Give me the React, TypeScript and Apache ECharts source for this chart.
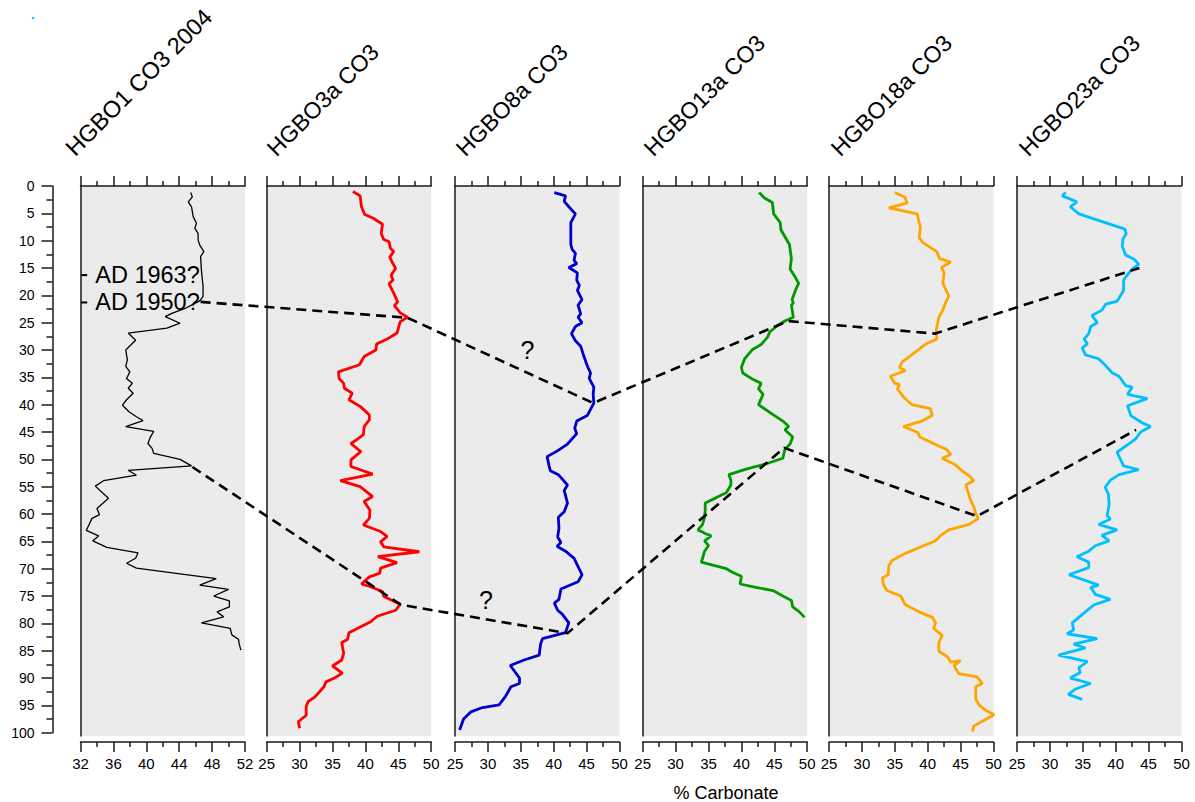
import React, { useEffect, useRef } from 'react';
import * as echarts from 'echarts';

// ---------------- data (depth in cm, % carbonate) ----------------
const DEPTH_TICKS_MIN = 0;
const DEPTH_TICKS_MAX = 100;

const hgbo1: number[][] = [
  [1.2, 45.4], [2.0, 45.6], [2.9, 45.1], [3.8, 45.5], [5.6, 45.7], [6.8, 46.1], [7.7, 45.9], [8.7, 46.3],
  [9.9, 46.3], [10.8, 46.5], [12.0, 47.0], [12.9, 46.6], [15.4, 46.7], [18.4, 46.9], [20.2, 46.9], [21.0, 46.5],
  [22.4, 44.7], [23.3, 43.1], [23.9, 42.3], [25.1, 44.1], [26.0, 42.5], [26.9, 37.8], [28.2, 38.7], [30.0, 37.5],
  [31.8, 37.7], [33.0, 37.5], [34.0, 38.0], [35.2, 37.6], [36.1, 38.3], [37.0, 37.8], [37.9, 38.4], [39.1, 37.6],
  [40.1, 37.1], [41.3, 37.9], [42.2, 38.8], [42.9, 39.6], [44.0, 37.5], [44.9, 40.9], [45.9, 40.5], [47.1, 40.2],
  [48.0, 40.7], [48.9, 40.9], [50.0, 44.1], [51.2, 45.5], [52.0, 37.8], [52.9, 38.8], [53.9, 34.8], [54.9, 33.8],
  [57.1, 35.4], [59.0, 34.0], [60.1, 34.3], [60.8, 33.4], [63.0, 32.7], [64.0, 34.2], [64.9, 33.5], [66.1, 35.2],
  [67.1, 39.0], [68.1, 38.7], [69.0, 37.6], [69.9, 38.8], [71.8, 48.5], [73.0, 46.5], [73.8, 50.0], [75.0, 48.2],
  [75.9, 50.1], [77.0, 50.1], [77.9, 48.6], [78.8, 49.4], [79.9, 46.7], [80.9, 50.2], [82.1, 50.4], [82.9, 51.2],
  [83.8, 51.3], [84.9, 51.5],
];

const hgbo3a: number[][] = [
  [1.0, 38.1], [1.8, 39.2], [3.8, 39.4], [5.2, 39.9], [5.9, 41.2], [7.0, 42.6], [8.7, 42.4], [9.8, 42.8],
  [10.2, 43.6], [11.4, 43.8], [12.0, 44.3], [13.0, 43.7], [14.0, 44.1], [15.1, 44.6], [16.3, 43.9], [17.2, 44.2],
  [17.9, 43.6], [19.6, 44.3], [21.2, 44.9], [21.9, 44.4], [23.2, 45.3], [24.0, 46.4], [24.8, 45.3], [26.9, 44.8],
  [28.0, 43.3], [28.9, 41.7], [30.0, 41.6], [31.2, 39.8], [32.7, 39.1], [34.0, 35.9], [35.2, 36.0], [36.1, 36.7],
  [37.0, 36.8], [37.9, 38.0], [39.1, 37.5], [40.4, 39.3], [41.9, 40.6], [42.8, 40.6], [44.0, 39.8], [45.5, 39.7],
  [46.3, 38.8], [47.1, 37.8], [48.6, 39.3], [50.1, 37.8], [51.3, 37.8], [52.7, 41.1], [53.9, 36.2], [55.0, 39.2],
  [56.8, 41.1], [57.7, 39.8], [59.3, 40.7], [60.8, 40.6], [62.0, 39.7], [63.2, 42.3], [64.1, 43.3], [65.1, 42.3],
  [66.0, 42.8], [66.9, 48.2], [67.8, 41.9], [68.9, 44.8], [69.9, 42.3], [70.8, 42.2], [71.5, 40.6], [72.8, 39.4],
  [73.3, 40.8], [74.2, 42.6], [75.1, 42.8], [76.5, 45.3], [77.6, 44.6], [78.7, 41.8], [79.7, 40.8], [81.7, 37.5],
  [82.9, 37.3], [83.5, 36.4], [85.5, 36.7], [86.7, 36.4], [87.8, 35.0], [89.1, 36.5], [90.0, 35.3], [90.7, 34.0],
  [91.6, 33.7], [93.5, 32.3], [94.3, 31.3], [95.2, 31.0], [96.8, 31.0], [98.0, 29.8], [99.2, 30.0],
];

const hgbo8a: number[][] = [
  [1.2, 40.1], [1.8, 41.8], [2.8, 41.6], [3.8, 42.3], [5.1, 43.3], [6.7, 42.6], [10.7, 42.6], [11.6, 42.8],
  [12.3, 43.3], [13.6, 43.1], [14.2, 43.5], [14.9, 42.3], [15.9, 43.6], [17.2, 43.5], [18.2, 43.9], [19.1, 43.6],
  [20.8, 44.3], [21.8, 43.7], [23.4, 44.1], [24.0, 43.7], [25.0, 44.3], [25.7, 43.3], [27.0, 42.7], [28.3, 43.3],
  [29.3, 44.1], [31.2, 44.6], [32.9, 45.1], [34.2, 45.6], [35.2, 45.4], [36.8, 46.1], [38.1, 46.0], [39.7, 46.1],
  [42.0, 45.1], [43.0, 43.5], [44.3, 43.2], [45.3, 43.5], [47.2, 42.1], [48.5, 40.5], [49.5, 39.0], [51.2, 39.3],
  [52.1, 39.5], [52.8, 40.7], [54.7, 42.1], [55.7, 41.6], [58.0, 42.1], [59.6, 41.6], [60.6, 40.7], [62.6, 40.8],
  [64.2, 40.6], [65.2, 41.1], [65.9, 40.5], [66.8, 41.8], [68.1, 43.1], [69.1, 43.5], [71.1, 44.3], [72.4, 43.7],
  [73.7, 41.1], [75.6, 40.8], [76.3, 40.1], [77.6, 40.6], [78.3, 41.3], [79.9, 42.3], [81.7, 41.8], [82.8, 38.3],
  [83.8, 38.0], [85.8, 37.8], [86.7, 35.5], [87.7, 33.4], [90.0, 34.8], [91.0, 34.8], [91.6, 33.5], [93.3, 32.7],
  [94.9, 31.7], [95.4, 29.2], [96.2, 27.4], [97.5, 26.3], [99.5, 25.7],
];

const hgbo13a: number[][] = [
  [1.2, 42.7], [2.2, 43.5], [3.0, 44.7], [5.1, 44.9], [6.7, 45.9], [8.0, 46.0], [10.7, 47.3], [13.3, 47.6],
  [15.2, 47.4], [16.5, 48.1], [17.8, 48.7], [19.1, 48.2], [20.8, 47.7], [21.4, 47.9], [21.8, 47.6], [24.0, 47.9],
  [24.7, 46.6], [25.7, 45.3], [26.7, 44.3], [27.6, 44.0], [29.0, 43.0], [29.9, 41.7], [31.6, 40.5], [33.2, 40.0],
  [34.2, 40.2], [35.2, 41.5], [35.8, 42.5], [36.1, 43.0], [37.1, 42.6], [38.1, 43.3], [40.0, 42.6], [41.4, 44.3],
  [43.0, 46.3], [44.0, 47.2], [44.6, 46.6], [45.9, 47.8], [47.2, 47.4], [48.2, 46.6], [49.8, 46.3], [50.8, 43.8],
  [51.8, 40.7], [52.8, 38.1], [53.8, 38.4], [54.7, 38.4], [56.1, 37.7], [57.0, 36.2], [58.0, 34.5], [59.3, 34.5],
  [60.6, 34.4], [61.9, 34.1], [62.9, 33.4], [63.6, 34.6], [64.0, 35.4], [64.9, 34.4], [65.8, 35.0], [66.8, 34.4],
  [68.1, 34.1], [68.8, 33.9], [70.0, 37.7], [70.7, 38.7], [71.4, 40.0], [72.8, 39.8], [73.4, 42.2], [74.0, 44.8],
  [75.0, 46.3], [75.8, 47.6], [77.0, 47.8], [77.9, 48.8], [78.9, 49.6],
];

const hgbo18a: number[][] = [
  [1.2, 35.0], [2.0, 36.5], [3.1, 36.9], [3.5, 35.7], [4.0, 34.1], [5.1, 38.4], [6.7, 38.7], [7.4, 38.9],
  [9.4, 38.7], [10.3, 39.2], [12.0, 41.4], [13.3, 41.8], [13.9, 43.5], [14.9, 42.1], [15.9, 42.5], [17.8, 42.3],
  [20.1, 43.2], [21.4, 42.7], [22.7, 42.3], [24.0, 41.7], [26.3, 41.3], [28.0, 41.4], [28.9, 39.7], [30.3, 38.2],
  [32.2, 36.1], [33.2, 35.7], [33.8, 36.6], [34.8, 34.3], [36.1, 35.0], [36.3, 35.7], [37.1, 35.4], [38.7, 36.4],
  [40.0, 37.6], [40.7, 40.4], [42.0, 40.7], [43.0, 39.1], [44.0, 36.3], [45.1, 38.5], [45.9, 38.8], [47.4, 41.4],
  [48.2, 42.9], [49.1, 43.5], [49.8, 42.2], [51.0, 44.2], [52.1, 45.2], [53.0, 46.3], [53.9, 47.0], [54.7, 45.8],
  [57.4, 46.5], [58.7, 47.0], [60.0, 47.3], [60.8, 47.7], [61.9, 46.3], [62.9, 43.2], [63.9, 42.0], [64.9, 41.2],
  [65.9, 39.2], [67.2, 36.6], [68.5, 34.6], [69.4, 34.1], [71.1, 34.0], [71.7, 33.1], [73.0, 33.3], [74.0, 33.8],
  [75.0, 35.9], [76.6, 36.6], [77.9, 38.7], [78.9, 40.7], [79.9, 41.2], [80.9, 40.9], [82.2, 42.2], [83.5, 41.7],
  [85.1, 41.7], [86.1, 43.0], [87.1, 43.5], [86.8, 45.0], [87.7, 44.0], [89.2, 44.7], [89.8, 47.5], [91.0, 48.3],
  [91.6, 47.3], [93.9, 47.3], [94.9, 47.8], [95.9, 48.8], [96.7, 50.1], [97.9, 48.3], [98.8, 47.0], [99.8, 46.8],
];

const hgbo23a: number[][] = [
  [1.2, 32.4], [1.8, 31.9], [2.9, 34.1], [3.8, 33.1], [5.1, 34.4], [7.9, 41.4], [8.7, 41.6], [9.7, 41.1],
  [11.0, 41.0], [12.6, 41.5], [13.4, 42.8], [14.3, 43.5], [15.2, 42.5], [16.2, 41.8], [17.2, 41.2], [19.1, 41.2],
  [21.1, 40.2], [21.6, 38.5], [22.7, 37.9], [23.7, 36.4], [25.0, 37.2], [25.7, 36.2], [27.0, 35.9], [28.0, 35.2],
  [28.9, 35.7], [29.6, 34.9], [30.9, 35.4], [31.6, 37.4], [32.9, 38.5], [34.2, 39.5], [34.8, 40.5], [36.5, 41.5],
  [36.8, 42.5], [38.1, 41.8], [38.9, 44.8], [40.2, 41.8], [42.0, 42.3], [43.3, 44.0], [44.0, 45.3], [45.0, 43.8],
  [46.3, 43.0], [47.6, 41.5], [48.7, 40.2], [51.2, 41.2], [51.9, 43.5], [52.8, 40.5], [53.8, 39.2], [55.1, 38.4],
  [56.4, 38.9], [58.3, 39.0], [60.3, 38.7], [60.9, 39.2], [61.9, 37.4], [62.9, 40.2], [63.9, 37.9], [64.9, 39.0],
  [65.8, 36.9], [66.8, 35.9], [67.8, 34.1], [68.8, 35.9], [69.8, 35.9], [71.1, 32.9], [73.0, 37.4], [73.4, 36.2],
  [74.7, 36.9], [75.6, 39.2], [76.6, 36.7], [77.9, 35.4], [78.9, 34.4], [79.9, 33.4], [81.2, 33.6], [81.9, 32.6],
  [82.8, 37.2], [83.8, 33.6], [84.5, 35.4], [85.8, 31.3], [87.0, 35.7], [88.1, 34.4], [89.0, 34.6], [90.0, 33.1],
  [91.0, 36.2], [92.0, 33.9], [93.0, 32.8], [93.9, 34.9],
];

const coreTitles = ['HGBO1 CO3 2004', 'HGBO3a CO3', 'HGBO8a CO3', 'HGBO13a CO3', 'HGBO18a CO3', 'HGBO23a CO3'];
const coreData = [hgbo1, hgbo3a, hgbo8a, hgbo13a, hgbo18a, hgbo23a];
const coreColors = ['#000000', '#FF0000', '#0000CD', '#009900', '#FFA500', '#00BFFF'];
const axisMin = [32, 25, 25, 25, 25, 25];
const axisMax = [52, 50, 50, 50, 50, 50];
const axisStep = [4, 5, 5, 5, 5, 5];

// correlation lines: [panel index, % carbonate, depth]
const corrUpper: number[][] = [
  [0, 46.6, 21.2], [1, 46.4, 24.1], [2, 46.0, 39.7], [3, 47.1, 24.7], [4, 41.1, 27.0], [5, 43.6, 15.0],
];
const corrLower: number[][] = [
  [0, 45.6, 51.4], [1, 45.4, 76.6], [2, 42.1, 81.8], [3, 46.5, 47.9], [4, 47.5, 60.4], [5, 43.1, 44.6],
];

// annotations
const dateMarks = [
  { name: 'AD 1963?', co3: 32.45, depth: 16.3 },
  { name: 'AD 1950?', co3: 32.45, depth: 21.3 },
];
const questionMarks: number[][] = [
  [36.0, 30.0], [29.7, 75.7],
];

// ---------------- layout ----------------
const PANEL_LEFT = [80.5, 266.7, 455, 642.7, 829, 1017];
const PANEL_W = 164.5;
const TOP = 186;
const DEPTH_H = 546.7;
const GRAY_H = 550;
const TITLE_X = [78, 279, 468, 656, 843, 1031];
const TITLE_Y = 160;
const FONT = '"Liberation Sans", Arial, sans-serif';
const AXIS_COLOR = '#1a1a1a';

export default function App() {
  const ref = useRef<HTMLDivElement>(null);

  useEffect(() => {
    document.body.style.margin = '0';
    if (!ref.current) return;
    const chart = echarts.init(ref.current, undefined, { renderer: 'svg' });

    const grids: any[] = [];
    const xAxes: any[] = [];
    const yAxes: any[] = [];
    const series: any[] = [];
    const grayMax = DEPTH_TICKS_MAX * GRAY_H / DEPTH_H;

    coreData.forEach((data, i) => {
      grids.push({
        left: PANEL_LEFT[i], top: TOP, width: PANEL_W, height: GRAY_H,
        show: true, backgroundColor: '#EBEBEB', borderWidth: 0,
      });
      const common = {
        type: 'value', gridIndex: i, min: axisMin[i], max: axisMax[i], interval: axisStep[i],
        splitLine: { show: false },
        axisLine: { show: true, lineStyle: { color: AXIS_COLOR, width: 1.5 } },
        axisTick: { show: true, length: 10, lineStyle: { color: AXIS_COLOR, width: 1.5 } },
        minorTick: { show: true, splitNumber: 2, length: 5, lineStyle: { color: AXIS_COLOR, width: 1.5 } },
      };
      xAxes.push({ ...common, position: 'top', offset: 4, axisLabel: { show: false } });
      xAxes.push({
        ...common, position: 'bottom', offset: 6,
        axisLabel: {
          show: true, margin: 14, fontSize: 15, color: '#000', fontFamily: FONT,
          showMinLabel: true, showMaxLabel: true,
        },
      });
      yAxes.push({
        type: 'value', gridIndex: i, min: DEPTH_TICKS_MIN, max: grayMax, inverse: true,
        splitLine: { show: false },
        axisLine: { show: true, lineStyle: { color: AXIS_COLOR, width: 1.5 } },
        axisTick: { show: false }, axisLabel: { show: false },
      });
      series.push({
        type: 'line', xAxisIndex: i * 2 + 1, yAxisIndex: i,
        data: data.map((p) => [p[1], p[0]]),
        symbol: 'none', smooth: false, clip: false,
        lineStyle: { color: coreColors[i], width: i === 0 ? 1.3 : 2.8 },
        z: 3,
      });
    });

    // depth axis
    grids.push({ left: 52.5, top: TOP, width: 1, height: DEPTH_H, show: false });
    xAxes.push({ type: 'value', gridIndex: 6, show: false });
    yAxes.push({
      type: 'value', gridIndex: 6, min: DEPTH_TICKS_MIN, max: DEPTH_TICKS_MAX, interval: 5, inverse: true,
      position: 'left',
      splitLine: { show: false },
      axisLine: { show: true, lineStyle: { color: AXIS_COLOR, width: 1.5 } },
      axisTick: { show: true, length: 11, lineStyle: { color: AXIS_COLOR, width: 1.5 } },
      minorTick: { show: true, splitNumber: 2, length: 6, lineStyle: { color: AXIS_COLOR, width: 1.5 } },
      axisLabel: { show: true, margin: 18, fontSize: 14, color: '#000', fontFamily: FONT },
    });

    // date markers in panel 1
    series.push({
      type: 'scatter', xAxisIndex: 1, yAxisIndex: 0,
      symbol: 'rect', symbolSize: [6, 2], itemStyle: { color: '#000', opacity: 1 },
      data: dateMarks.map((m) => ({ name: m.name, value: [m.co3, m.depth] })),
      label: {
        show: true, position: 'right', distance: 8, formatter: '{b}', opacity: 1,
        fontSize: 23.5, color: '#000', fontFamily: FONT, textBorderWidth: 0,
      },
      z: 4,
    });
    // question marks in panel 3
    series.push({
      type: 'scatter', xAxisIndex: 5, yAxisIndex: 2,
      symbol: 'circle', symbolSize: 0, itemStyle: { color: '#000', opacity: 1 },
      data: questionMarks.map((q) => ({ value: q })),
      label: {
        show: true, position: 'inside', formatter: '?', fontSize: 25, color: '#000', opacity: 1,
        fontFamily: FONT, textBorderWidth: 0,
      },
      z: 4,
    });

    chart.setOption({
      animation: false,
      grid: grids,
      xAxis: xAxes,
      yAxis: yAxes,
      series,
    });

    const toPx = (row: number[]) =>
      chart.convertToPixel({ xAxisIndex: row[0] * 2 + 1, yAxisIndex: row[0] }, [row[1], row[2]]) as number[];

    const elements: any[] = [];
    [corrUpper, corrLower].forEach((rows) => {
      elements.push({
        type: 'polyline', z: 100,
        shape: { points: rows.map(toPx) },
        style: { stroke: '#000', lineWidth: 2.6, lineDash: [10, 6], fill: null },
      });
    });
    coreTitles.forEach((t, i) => {
      elements.push({
        type: 'text', x: TITLE_X[i], y: TITLE_Y, rotation: Math.PI / 4, z: 100,
        style: {
          text: t, fontSize: i === 0 ? 23.5 : 23, fontFamily: FONT, fill: '#000',
          align: 'left', verticalAlign: 'bottom',
        },
      });
    });
    elements.push({
      type: 'text', x: 726, y: 793, z: 100,
      style: {
        text: '% Carbonate', fontSize: 18, fontFamily: FONT, fill: '#000',
        align: 'center', verticalAlign: 'middle',
      },
    });
    elements.push({ type: 'circle', shape: { cx: 33, cy: 18, r: 1.2 }, style: { fill: '#00BFFF' } });

    chart.setOption({ graphic: { elements } });

    return () => chart.dispose();
  }, []);

  return <div ref={ref} style={{ width: 1195, height: 802 }} />;
}
